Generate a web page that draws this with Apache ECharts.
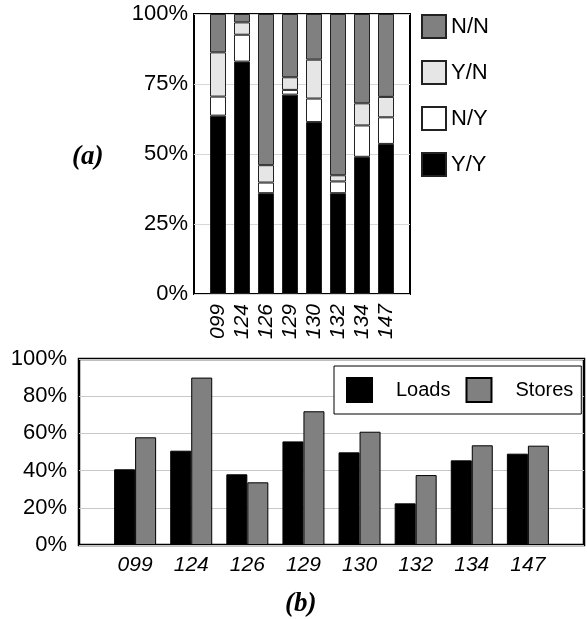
<!DOCTYPE html>
<html>
<head>
<meta charset="utf-8">
<script src="https://cdn.jsdelivr.net/npm/echarts@6/dist/echarts.min.js"></script>
<style>
  html, body { margin: 0; padding: 0; background: #fff; }
  #chart { width: 587px; height: 619px; }
</style>
</head>
<body>
<div id="chart"></div>
<script>
// Benchmarks (padded with an empty slot on each side of the axis)
const benchmarks = ['099', '124', '126', '129', '130', '132', '134', '147'];

// (a) outcome breakdown, percent of each benchmark
const yy = [63.7, 83.0, 36.0, 71.2, 61.4, 36.0, 49.0, 53.6];
const ny = [6.8, 9.6, 3.8, 1.7, 8.4, 4.2, 11.2, 9.5];
const yn = [15.8, 4.4, 6.2, 4.5, 13.9, 2.2, 7.9, 7.3];
const nn = [13.7, 3.0, 54.0, 22.6, 16.3, 57.6, 31.9, 29.6];

// (b) loads and stores, percent
const loads = [40.7, 50.7, 38.0, 55.7, 49.8, 22.4, 45.5, 49.1];
const stores = [57.9, 90.0, 33.7, 71.9, 60.9, 37.6, 53.6, 53.4];

const FONT = 'Liberation Sans, Arial, sans-serif';
const pad = arr => ['-'].concat(arr, ['-']);
const cats = [''].concat(benchmarks, ['']);

const chart = echarts.init(document.getElementById('chart'), null, { renderer: 'canvas' });

const stackBar = (name, data, color) => ({
  name, type: 'bar', stack: 'a', xAxisIndex: 0, yAxisIndex: 0,
  barWidth: 16, data: pad(data),
  itemStyle: { color, borderColor: '#222', borderWidth: 1 },
  emphasis: { disabled: true }
});

chart.setOption({
  animation: false,
  textStyle: { fontFamily: FONT },
  grid: [
    { left: 194, top: 14, width: 216, height: 280, show: true, borderColor: '#000', borderWidth: 2, backgroundColor: 'transparent' },
    { left: 79, top: 359, width: 506, height: 186, show: true, borderColor: '#000', borderWidth: 2.5, backgroundColor: 'transparent' }
  ],
  xAxis: [
    {
      type: 'category', gridIndex: 0, data: cats, boundaryGap: false,
      axisLine: { show: false }, axisTick: { show: false },
      axisLabel: { interval: 0, rotate: 90, margin: 10, fontSize: 21, fontStyle: 'italic', color: '#000', fontFamily: FONT }
    },
    {
      type: 'category', gridIndex: 1, data: cats, boundaryGap: false,
      axisLine: { show: false }, axisTick: { show: false },
      axisLabel: { interval: 0, margin: 10, fontSize: 21, fontStyle: 'italic', color: '#000', fontFamily: FONT }
    }
  ],
  yAxis: [
    {
      type: 'value', gridIndex: 0, min: 0, max: 100, interval: 25,
      axisLine: { show: false }, axisTick: { show: false },
      splitLine: { lineStyle: { color: '#d8d8d8', width: 1 } },
      axisLabel: { formatter: '{value}%', fontSize: 22, color: '#000', margin: 6, fontFamily: FONT }
    },
    {
      type: 'value', gridIndex: 1, min: 0, max: 100, interval: 20,
      axisLine: { show: false }, axisTick: { show: false },
      splitLine: { lineStyle: { color: '#c8c8c8', width: 1 } },
      axisLabel: { formatter: '{value}%', fontSize: 22, color: '#000', margin: 12, fontFamily: FONT }
    }
  ],
  legend: [
    {
      data: ['N/N', 'Y/N', 'N/Y', 'Y/Y'],
      orient: 'vertical', left: 416, top: 9,
      itemWidth: 24, itemHeight: 23, itemGap: 21,
      icon: 'rect',
      textStyle: { fontSize: 22, color: '#000', fontFamily: FONT },
      selectedMode: false
    },
    {
      data: ['Loads', 'Stores'],
      orient: 'horizontal', left: 334, top: 366,
      padding: [11, 8, 11, 12],
      borderColor: '#000', borderWidth: 1, backgroundColor: '#fff',
      itemWidth: 25, itemHeight: 24, itemGap: 15,
      icon: 'rect',
      textStyle: { fontSize: 20, color: '#000', fontFamily: FONT, padding: [0, 0, 0, 19] },
      selectedMode: false
    }
  ],
  series: [
    stackBar('Y/Y', yy, '#000000'),
    stackBar('N/Y', ny, '#ffffff'),
    stackBar('Y/N', yn, '#e6e6e6'),
    stackBar('N/N', nn, '#808080'),
    {
      name: 'Loads', type: 'bar', xAxisIndex: 1, yAxisIndex: 1,
      barWidth: 21, barGap: '0%', data: pad(loads),
      itemStyle: { color: '#000000', borderColor: '#000', borderWidth: 1 },
      emphasis: { disabled: true }
    },
    {
      name: 'Stores', type: 'bar', xAxisIndex: 1, yAxisIndex: 1,
      barWidth: 21, barGap: '0%', data: pad(stores),
      itemStyle: { color: '#808080', borderColor: '#000', borderWidth: 1 },
      emphasis: { disabled: true }
    }
  ],
  graphic: [
    {
      type: 'text', left: 72, top: 144,
      style: { text: '(a)', font: 'italic bold 27px "Liberation Serif", "Times New Roman", serif', fill: '#000' }
    },
    {
      type: 'text', left: 285, top: 591,
      style: { text: '(b)', font: 'italic bold 27px "Liberation Serif", "Times New Roman", serif', fill: '#000' }
    }
  ]
});
</script>
</body>
</html>
